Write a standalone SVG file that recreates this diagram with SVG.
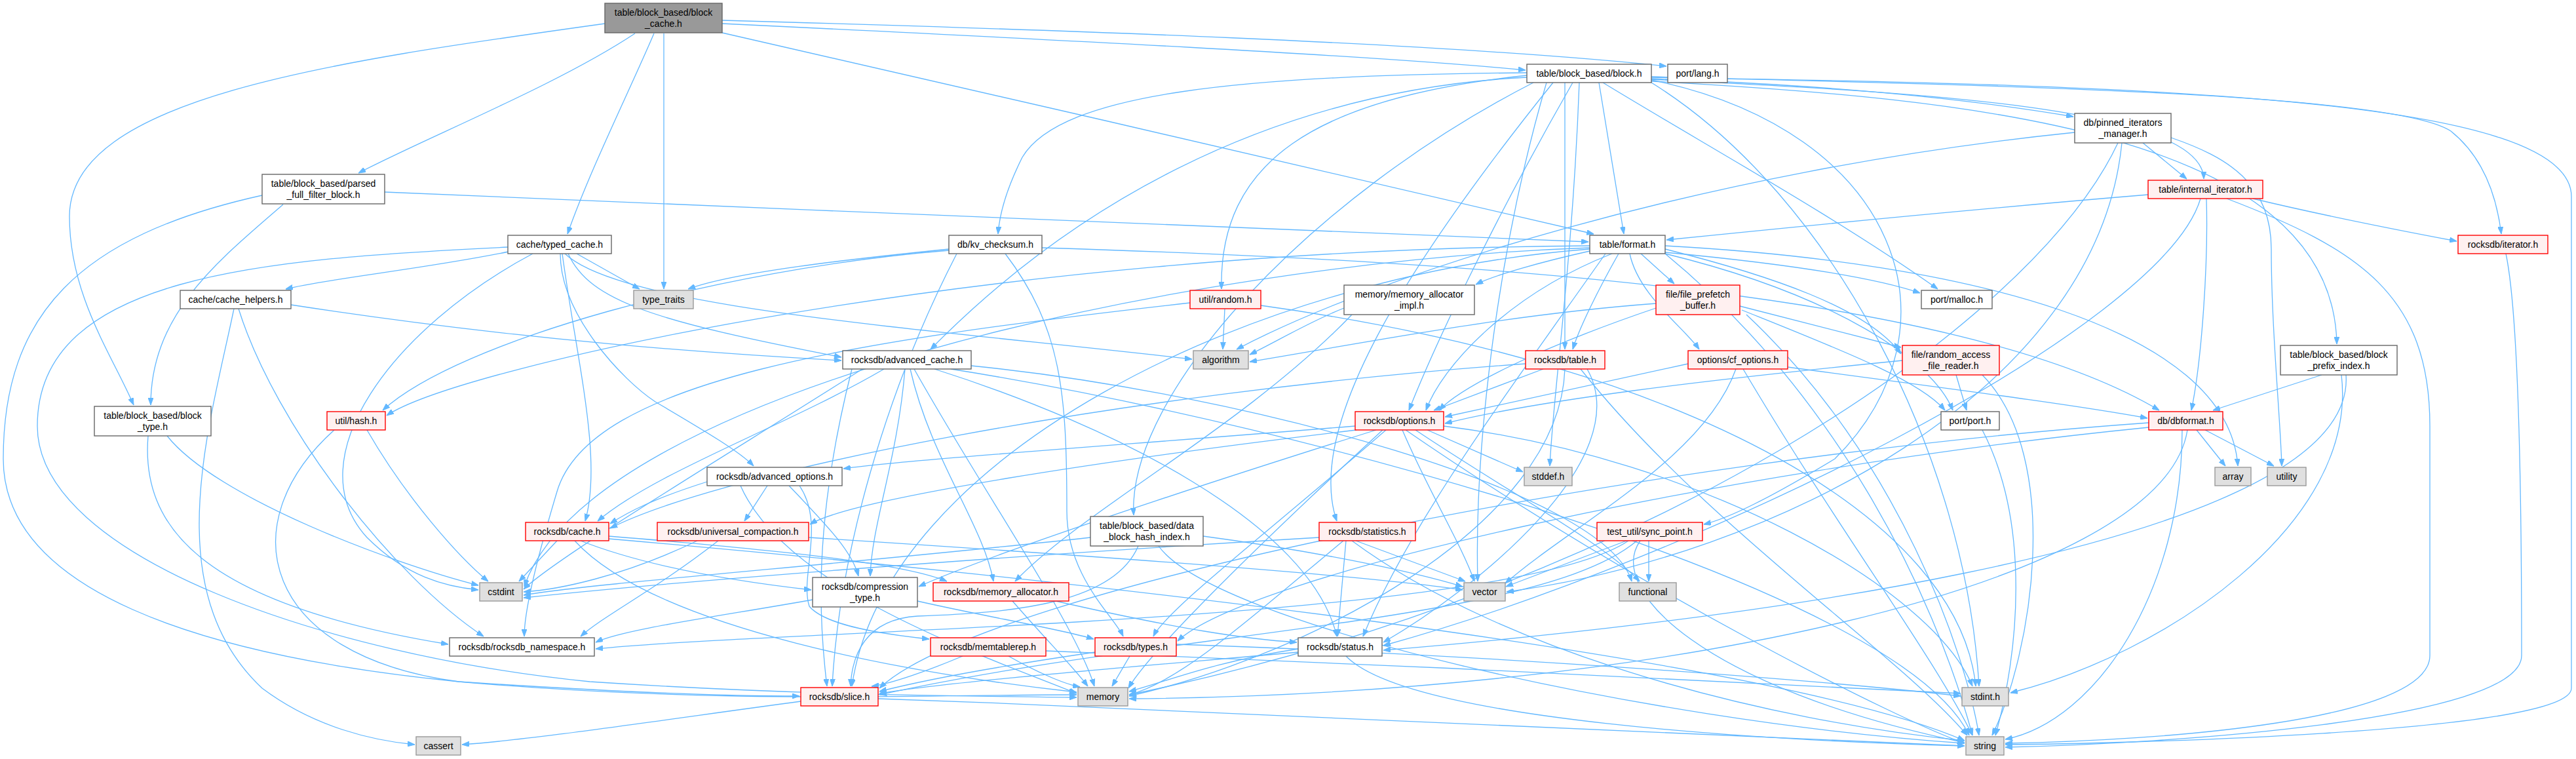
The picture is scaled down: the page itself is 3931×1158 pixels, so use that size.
<svg xmlns="http://www.w3.org/2000/svg" width="3931" height="1158" viewBox="0 0 3931 1158">
<style>
.nd rect{fill:#ffffff;stroke:#666666;stroke-width:1.4}
.nd.gr rect{fill:#e0e0e0;stroke:#999999}
.nd.rd rect{fill:#fff0f0;stroke:#ff0000}
.nd.root rect{fill:#999999;stroke:#666666}
text{font-family:"Liberation Sans",Arial,Helvetica,sans-serif;font-size:14px;text-anchor:middle;fill:#000000}
#edges path{fill:none;stroke:#63b8ff;stroke-width:1.3;marker-end:url(#a)}
</style>
<defs>
<marker id="a" viewBox="0 0 11 8" refX="11" refY="4" markerWidth="11" markerHeight="8" markerUnits="userSpaceOnUse" orient="auto">
<path d="M0,0 L11,4 L0,8 z" fill="#63b8ff" stroke="#63b8ff" stroke-width="1"/>
</marker>
</defs>
<rect x="0" y="0" width="3931" height="1158" fill="#ffffff"/>
<g id="edges">
<path d="M998,51 C960,140 900,260 866,357"/>
<path d="M969,51 C850,130 650,210 547,264"/>
<path d="M923,36 C500,95 106,150 106,330 C106,450 170,540 204,618"/>
<path d="M1013,51 L1013,441"/>
<path d="M1102,31 C1600,45 2200,65 2543,101"/>
<path d="M1102,36 C1600,60 2100,85 2328,107"/>
<path d="M1102,50 C1500,140 2100,280 2432,357"/>
<path d="M432,312 C330,400 230,480 230,618"/>
<path d="M587,293 C1200,320 2000,350 2424,369"/>
<path d="M400,298 C120,360 5,480 5,700 C5,900 300,1000 700,1040 C1100,1075 1400,1060 1643,1060"/>
<path d="M776,384 C650,410 500,425 436,441"/>
<path d="M880,387 L976,441"/>
<path d="M867,387 C900,460 1000,490 1284,545"/>
<path d="M862,387 C950,470 1400,500 1819,548"/>
<path d="M775,377 C400,395 57,420 57,650 C57,850 500,1000 900,1040 C1200,1060 1450,1062 1643,1064"/>
<path d="M813,387 C600,500 450,700 560,820 C620,880 680,895 730,900"/>
<path d="M855,387 C855,480 950,580 1000,613 C1080,660 1130,690 1150,711"/>
<path d="M858,387 C880,550 920,700 893,795"/>
<path d="M1448,380 C1300,395 1120,415 1050,441"/>
<path d="M1448,382 C1100,410 700,520 584,626"/>
<path d="M1590,378 C2300,400 3000,450 3295,626"/>
<path d="M1534,387 C1620,500 1628,600 1628,780 C1628,880 1700,940 1714,971"/>
<path d="M1460,387 C1350,600 1280,850 1270,1047"/>
<path d="M2330,111 C1900,115 1620,140 1560,240 C1535,290 1525,330 1523,357"/>
<path d="M2520,120 C2800,130 3000,150 3164,178"/>
<path d="M2446,126 C2600,220 2800,330 2957,441"/>
<path d="M2330,118 C1900,140 1600,350 1420,533"/>
<path d="M2520,117 C3000,130 3650,140 3740,200 C3790,240 3810,300 3817,357"/>
<path d="M2400,126 C2300,300 2200,500 2150,626"/>
<path d="M2410,126 C2400,400 2370,600 2365,711"/>
<path d="M2388,126 C2388,300 2388,450 2388,533"/>
<path d="M2370,126 C2150,400 1990,650 2040,795"/>
<path d="M2520,122 C2900,200 3000,500 2800,700 C2700,760 2640,790 2600,800"/>
<path d="M2340,126 C2000,300 1720,600 1730,786"/>
<path d="M2520,124 C3000,150 3560,200 3566,525"/>
<path d="M2520,121 C2900,140 3360,160 3363,273"/>
<path d="M2440,126 L2478,357"/>
<path d="M2360,126 C2280,400 2250,700 2255,887"/>
<path d="M2520,118 C3300,130 3924,150 3924,300 L3924,1050 C3924,1120 3200,1135 3060,1136"/>
<path d="M2520,126 C2800,300 3000,700 3020,1047"/>
<path d="M2330,115 C2000,150 1860,250 1864,441"/>
<path d="M2504,387 L2555,433"/>
<path d="M2541,380 C2700,420 2850,470 2901,540"/>
<path d="M2426,383 C2350,400 2280,420 2252,434"/>
<path d="M2487,387 C2500,450 2570,500 2593,533"/>
<path d="M2541,385 C2700,400 2850,420 2930,447"/>
<path d="M2541,387 C2800,450 2950,550 2980,626"/>
<path d="M2460,387 C2300,450 2200,560 2176,626"/>
<path d="M2470,387 C2440,440 2410,500 2400,533"/>
<path d="M2450,387 C2300,600 2150,800 2080,971"/>
<path d="M2426,380 C1900,420 1350,700 1300,1047"/>
<path d="M2426,375 C1500,380 700,560 590,634"/>
<path d="M2541,375 C3000,400 3400,500 3415,711"/>
<path d="M2426,378 C1800,400 900,600 800,895"/>
<path d="M2541,387 C2800,600 2950,900 3010,1122"/>
<path d="M3270,218 L3337,273"/>
<path d="M3166,202 C2600,260 2100,420 1887,533"/>
<path d="M3232,218 C3100,500 2500,900 1723,1060"/>
<path d="M3238,218 C3200,600 2700,850 2299,903"/>
<path d="M3313,210 C3400,240 3466,280 3466,380 C3466,500 3480,640 3482,711"/>
<path d="M3278,297 C3000,320 2700,350 2543,366"/>
<path d="M3438,303 C3550,330 3680,355 3749,368"/>
<path d="M3367,303 C3370,400 3360,550 3344,626"/>
<path d="M3358,303 C3300,500 2600,850 2111,985"/>
<path d="M3398,303 C3600,380 3708,450 3708,650 L3708,1000 C3708,1100 3300,1130 3060,1134"/>
<path d="M3824,387 C3848,500 3848,900 3848,1000 C3848,1100 3300,1135 3060,1140"/>
<path d="M357,471 C320,650 240,900 400,1050 C480,1110 570,1130 633,1136"/>
<path d="M364,471 C420,650 600,880 738,971"/>
<path d="M444,465 C800,520 1100,540 1284,550"/>
<path d="M255,665 C330,760 600,860 730,893"/>
<path d="M226,665 C215,800 300,920 684,983"/>
<path d="M560,656 C620,760 700,850 745,887"/>
<path d="M510,656 C350,800 400,1000 700,1040 C1000,1060 1150,1062 1220,1062"/>
<path d="M1869,471 L1866,533"/>
<path d="M1816,462 C1300,520 900,580 850,750 C820,850 800,930 800,971"/>
<path d="M1924,466 C2600,560 2990,800 3015,1047"/>
<path d="M1349,563 C1200,650 1000,720 912,795"/>
<path d="M1316,563 C1100,700 850,850 799,899"/>
<path d="M1381,563 C1370,700 1330,800 1328,879"/>
<path d="M1389,563 C1420,700 1500,800 1516,887"/>
<path d="M1395,563 C1500,750 1640,950 1670,1047"/>
<path d="M1426,563 C1700,650 2000,800 2040,971"/>
<path d="M1451,563 C2000,650 2900,900 3005,1122"/>
<path d="M1482,558 C1900,600 2450,750 2490,887"/>
<path d="M1300,563 C1240,800 1250,950 1262,1047"/>
<path d="M1079,735 C1000,760 960,780 931,799"/>
<path d="M1171,741 L1136,795"/>
<path d="M1204,741 C1260,800 1300,840 1310,879"/>
<path d="M1220,741 C1260,800 1220,880 1235,925 C1260,955 1350,968 1418,975"/>
<path d="M1130,741 C1200,900 1500,1000 1643,1058"/>
<path d="M850,825 L792,887"/>
<path d="M877,825 C1000,960 1400,1030 1643,1056"/>
<path d="M929,822 C1600,880 2700,1000 2998,1130"/>
<path d="M929,818 C1200,840 1380,860 1445,887"/>
<path d="M886,825 C1000,870 1150,890 1238,900"/>
<path d="M1064,825 C950,880 850,900 799,903"/>
<path d="M1234,820 C1700,850 2100,880 2232,900"/>
<path d="M1096,825 C1000,900 920,940 886,971"/>
<path d="M1664,820 C1300,860 900,890 799,908"/>
<path d="M1737,833 C1700,920 1550,935 1400,940 C1320,945 1300,1000 1298,1047"/>
<path d="M1768,833 C1850,950 2500,1100 2998,1134"/>
<path d="M1836,818 C2000,840 2150,870 2232,895"/>
<path d="M1240,915 C1100,940 950,960 909,980"/>
<path d="M1400,917 C1500,940 1620,960 1669,975"/>
<path d="M1545,917 C1600,980 1640,1020 1660,1047"/>
<path d="M1611,917 C1800,960 1900,975 1979,980"/>
<path d="M1469,1001 C1400,1030 1350,1045 1330,1047"/>
<path d="M1539,1001 C1590,1030 1630,1045 1648,1048"/>
<path d="M1596,993 C2000,1010 2700,1040 2992,1058"/>
<path d="M1724,1001 L1697,1047"/>
<path d="M1671,995 C1500,1020 1400,1040 1342,1055"/>
<path d="M1795,983 C2300,1000 2800,1040 2992,1062"/>
<path d="M1222,1070 C1000,1100 800,1130 705,1136"/>
<path d="M1340,1066 C2000,1090 2700,1120 2998,1138"/>
<path d="M2013,820 C1500,850 1000,890 799,912"/>
<path d="M2054,825 L2041,971"/>
<path d="M2069,825 L2236,887"/>
<path d="M2050,825 C1900,950 1800,1040 1723,1060"/>
<path d="M2063,825 C2300,1000 2700,1100 2998,1130"/>
<path d="M2516,825 L2516,887"/>
<path d="M2482,825 L2298,895"/>
<path d="M2485,825 C2300,950 1200,960 909,990"/>
<path d="M2498,825 C2350,950 1800,960 1342,1060"/>
<path d="M2503,825 C2450,900 2600,1050 2998,1133"/>
<path d="M1981,990 C1850,1010 1780,1040 1723,1055"/>
<path d="M1981,995 C1700,1020 1450,1040 1342,1058"/>
<path d="M2054,1001 C2150,1100 2700,1130 2998,1138"/>
<path d="M2178,656 L2324,720"/>
<path d="M2068,650 C1700,680 1400,700 1287,715"/>
<path d="M2070,656 C1700,700 1300,760 1236,800"/>
<path d="M2100,656 C1800,750 1500,850 1402,895"/>
<path d="M2115,656 C1950,800 1780,930 1760,971"/>
<path d="M2203,650 C2600,700 2950,900 3010,1047"/>
<path d="M2160,656 C2300,750 2450,830 2502,887"/>
<path d="M2110,656 C1900,850 1750,1000 1722,1050"/>
<path d="M2145,656 C2500,900 2900,1100 2998,1134"/>
<path d="M2140,656 C2180,750 2230,830 2250,887"/>
<path d="M2355,563 L2188,626"/>
<path d="M2328,555 C1700,600 1100,720 931,806"/>
<path d="M2388,563 C2380,800 2000,1000 1723,1062"/>
<path d="M2412,563 C2600,800 2900,1000 3002,1122"/>
<path d="M2422,563 C2500,700 2250,900 2111,980"/>
<path d="M2576,555 L2205,636"/>
<path d="M2649,563 C2600,700 2400,800 2297,890"/>
<path d="M2660,563 C2800,800 2950,1000 3010,1122"/>
<path d="M2728,560 C2950,590 3150,615 3277,638"/>
<path d="M2527,463 C2300,480 2100,520 1907,552"/>
<path d="M2527,470 C2350,530 2230,590 2196,626"/>
<path d="M2655,467 L2901,530"/>
<path d="M2658,473 C2800,530 2930,580 2968,626"/>
<path d="M2665,480 C2900,700 3000,1000 3020,1122"/>
<path d="M2903,550 C2600,580 2350,610 2205,646"/>
<path d="M2985,572 L3001,626"/>
<path d="M3025,572 C3150,700 3100,1000 3040,1122"/>
<path d="M2051,470 C2000,490 1950,520 1907,541"/>
<path d="M2063,480 C1900,650 1650,780 1549,887"/>
<path d="M3025,656 C3100,800 3080,1000 3045,1122"/>
<path d="M3543,572 L3377,626"/>
<path d="M3573,572 C3600,800 3300,1000 3068,1057"/>
<path d="M3580,572 C3600,850 2500,960 2111,992"/>
<path d="M3352,656 L3396,711"/>
<path d="M3365,656 L3470,711"/>
<path d="M3279,645 C2500,700 1500,900 1342,1050"/>
<path d="M3279,652 C2600,720 1900,880 1797,978"/>
<path d="M3330,656 C3330,900 3200,1100 3060,1128"/>
<path d="M3338,656 C3300,900 2500,1060 1723,1066"/>
</g>
<g id="n_bc" class="nd root"><rect x="923" y="5" width="179" height="45"/><text x="1012.5" y="24">table/block_based/block</text><text x="1012.5" y="41">_cache.h</text></g>
<g id="n_pffb" class="nd"><rect x="400" y="266" width="187" height="45"/><text x="493.5" y="285">table/block_based/parsed</text><text x="493.5" y="302">_full_filter_block.h</text></g>
<g id="n_tc" class="nd"><rect x="775" y="359" width="158" height="28"/><text x="854" y="378">cache/typed_cache.h</text></g>
<g id="n_kv" class="nd"><rect x="1448" y="359" width="142" height="28"/><text x="1519" y="378">db/kv_checksum.h</text></g>
<g id="n_block" class="nd"><rect x="2330" y="98" width="190" height="28"/><text x="2425" y="117">table/block_based/block.h</text></g>
<g id="n_lang" class="nd"><rect x="2545" y="98" width="91" height="28"/><text x="2590.5" y="117">port/lang.h</text></g>
<g id="n_fmt" class="nd"><rect x="2426" y="359" width="115" height="28"/><text x="2483.5" y="378">table/format.h</text></g>
<g id="n_pim" class="nd"><rect x="3166" y="173" width="147" height="45"/><text x="3239.5" y="192">db/pinned_iterators</text><text x="3239.5" y="209">_manager.h</text></g>
<g id="n_ii" class="nd rd"><rect x="3278" y="275" width="175" height="28"/><text x="3365.5" y="294">table/internal_iterator.h</text></g>
<g id="n_it" class="nd rd"><rect x="3751" y="359" width="137" height="28"/><text x="3819.5" y="378">rocksdb/iterator.h</text></g>
<g id="n_ch" class="nd"><rect x="275" y="443" width="169" height="28"/><text x="359.5" y="462">cache/cache_helpers.h</text></g>
<g id="n_tt" class="nd gr"><rect x="967" y="443" width="91" height="28"/><text x="1012.5" y="462">type_traits</text></g>
<g id="n_bt" class="nd"><rect x="144" y="620" width="178" height="45"/><text x="233" y="639">table/block_based/block</text><text x="233" y="656">_type.h</text></g>
<g id="n_hash" class="nd rd"><rect x="499" y="628" width="89" height="28"/><text x="543.5" y="647">util/hash.h</text></g>
<g id="n_rand" class="nd rd"><rect x="1816" y="443" width="108" height="28"/><text x="1870" y="462">util/random.h</text></g>
<g id="n_ac" class="nd"><rect x="1286" y="535" width="196" height="28"/><text x="1384" y="554">rocksdb/advanced_cache.h</text></g>
<g id="n_alg" class="nd gr"><rect x="1821" y="535" width="84" height="28"/><text x="1863" y="554">algorithm</text></g>
<g id="n_ao" class="nd"><rect x="1079" y="713" width="206" height="28"/><text x="1182" y="732">rocksdb/advanced_options.h</text></g>
<g id="n_mai" class="nd"><rect x="2051" y="435" width="199" height="45"/><text x="2150.5" y="454">memory/memory_allocator</text><text x="2150.5" y="471">_impl.h</text></g>
<g id="n_fpb" class="nd rd"><rect x="2527" y="435" width="128" height="45"/><text x="2591" y="454">file/file_prefetch</text><text x="2591" y="471">_buffer.h</text></g>
<g id="n_malloc" class="nd"><rect x="2932" y="443" width="108" height="28"/><text x="2986" y="462">port/malloc.h</text></g>
<g id="n_table" class="nd rd"><rect x="2328" y="535" width="121" height="28"/><text x="2388.5" y="554">rocksdb/table.h</text></g>
<g id="n_cfo" class="nd rd"><rect x="2576" y="535" width="152" height="28"/><text x="2652" y="554">options/cf_options.h</text></g>
<g id="n_rafr" class="nd rd"><rect x="2903" y="527" width="148" height="45"/><text x="2977" y="546">file/random_access</text><text x="2977" y="563">_file_reader.h</text></g>
<g id="n_opt" class="nd rd"><rect x="2068" y="628" width="135" height="28"/><text x="2135.5" y="647">rocksdb/options.h</text></g>
<g id="n_port" class="nd"><rect x="2962" y="628" width="89" height="28"/><text x="3006.5" y="647">port/port.h</text></g>
<g id="n_stddef" class="nd gr"><rect x="2326" y="713" width="73" height="28"/><text x="2362.5" y="732">stddef.h</text></g>
<g id="n_bpi" class="nd"><rect x="3480" y="527" width="178" height="45"/><text x="3569" y="546">table/block_based/block</text><text x="3569" y="563">_prefix_index.h</text></g>
<g id="n_dbf" class="nd rd"><rect x="3279" y="628" width="113" height="28"/><text x="3335.5" y="647">db/dbformat.h</text></g>
<g id="n_array" class="nd gr"><rect x="3380" y="713" width="55" height="28"/><text x="3407.5" y="732">array</text></g>
<g id="n_util" class="nd gr"><rect x="3460" y="713" width="59" height="28"/><text x="3489.5" y="732">utility</text></g>
<g id="n_cache" class="nd rd"><rect x="802" y="797" width="127" height="28"/><text x="865.5" y="816">rocksdb/cache.h</text></g>
<g id="n_cstdint" class="nd gr"><rect x="732" y="889" width="65" height="28"/><text x="764.5" y="908">cstdint</text></g>
<g id="n_ns" class="nd"><rect x="686" y="973" width="221" height="28"/><text x="796.5" y="992">rocksdb/rocksdb_namespace.h</text></g>
<g id="n_cassert" class="nd gr"><rect x="635" y="1124" width="68" height="28"/><text x="669" y="1143">cassert</text></g>
<g id="n_uc" class="nd rd"><rect x="1003" y="797" width="231" height="28"/><text x="1118.5" y="816">rocksdb/universal_compaction.h</text></g>
<g id="n_dbhi" class="nd"><rect x="1664" y="788" width="172" height="45"/><text x="1750" y="807">table/block_based/data</text><text x="1750" y="824">_block_hash_index.h</text></g>
<g id="n_ct" class="nd"><rect x="1240" y="881" width="160" height="45"/><text x="1320" y="900">rocksdb/compression</text><text x="1320" y="917">_type.h</text></g>
<g id="n_ma" class="nd rd"><rect x="1424" y="889" width="207" height="28"/><text x="1527.5" y="908">rocksdb/memory_allocator.h</text></g>
<g id="n_mtr" class="nd rd"><rect x="1420" y="973" width="176" height="28"/><text x="1508" y="992">rocksdb/memtablerep.h</text></g>
<g id="n_types" class="nd rd"><rect x="1671" y="973" width="124" height="28"/><text x="1733" y="992">rocksdb/types.h</text></g>
<g id="n_slice" class="nd rd"><rect x="1222" y="1049" width="118" height="28"/><text x="1281" y="1068">rocksdb/slice.h</text></g>
<g id="n_memory" class="nd gr"><rect x="1645" y="1049" width="76" height="28"/><text x="1683" y="1068">memory</text></g>
<g id="n_stats" class="nd rd"><rect x="2013" y="797" width="147" height="28"/><text x="2086.5" y="816">rocksdb/statistics.h</text></g>
<g id="n_sync" class="nd rd"><rect x="2437" y="797" width="161" height="28"/><text x="2517.5" y="816">test_util/sync_point.h</text></g>
<g id="n_vector" class="nd gr"><rect x="2234" y="889" width="63" height="28"/><text x="2265.5" y="908">vector</text></g>
<g id="n_func" class="nd gr"><rect x="2471" y="889" width="87" height="28"/><text x="2514.5" y="908">functional</text></g>
<g id="n_status" class="nd"><rect x="1981" y="973" width="128" height="28"/><text x="2045" y="992">rocksdb/status.h</text></g>
<g id="n_stdint" class="nd gr"><rect x="2994" y="1049" width="71" height="28"/><text x="3029.5" y="1068">stdint.h</text></g>
<g id="n_string" class="nd gr"><rect x="3000" y="1124" width="58" height="28"/><text x="3029" y="1143">string</text></g>
</svg>
